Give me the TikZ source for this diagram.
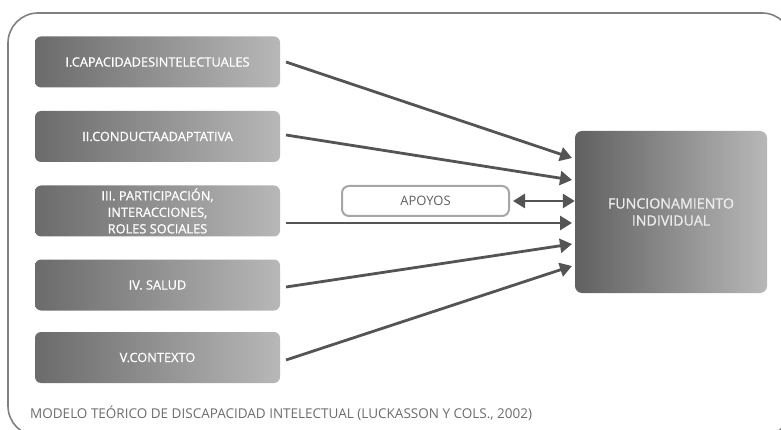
\documentclass[tikz,border=0pt]{standalone}
\usepackage{fontspec}
\setmainfont{Open Sans}
\newfontfamily\medfont[FakeBold=0.9]{Open Sans}
\usetikzlibrary{arrows.meta}
\definecolor{boxdark}{gray}{0.42}
\definecolor{boxlight}{gray}{0.72}
\definecolor{arrowc}{gray}{0.33}
\definecolor{framec}{gray}{0.5}
\tikzset{
  factor/.style={rounded corners=6pt, left color=boxdark, right color=boxlight,
    minimum width=245pt, minimum height=51pt, text=white, align=center,
    font=\medfont\fontsize{12.8}{16.5}\selectfont, inner sep=0pt},
  mainbox/.style={rounded corners=7pt, left color=boxdark!90!black, right color=boxlight,
    minimum width=192pt, minimum height=162pt, text=white!92!black, align=center,
    font=\medfont\fontsize{14.2}{17}\selectfont, inner sep=0pt},
  apoyobox/.style={rounded corners=7pt, draw=gray!70, line width=2pt, fill=white,
    minimum width=167pt, minimum height=30pt, text=gray!75!black,
    font=\fontsize{13}{14}\selectfont, inner sep=0pt},
  conn/.style={draw=arrowc, line width=2.8pt, -{Triangle[length=12pt,width=14pt]}},
  dconn/.style={draw=arrowc, line width=2.8pt, {Triangle[length=12pt,width=14pt]}-{Triangle[length=12pt,width=14pt]}},
}
\begin{document}
\begin{tikzpicture}[x=1pt,y=-1pt]
\useasboundingbox (0,0) rectangle (781,430);
\begin{scope}
\clip (0,0) rectangle (781,430);
\draw[framec, line width=1.6pt, rounded corners=30pt] (8,13) rectangle (792,436);
\end{scope}
\node[factor] (f1) at (157.5,62) {I.CAPACIDADESINTELECTUALES};
\node[factor] (f2) at (157.5,136.5) {II.CONDUCTAADAPTATIVA};
\node[factor] (f3) at (157.5,211) {III. PARTICIPACIÓN,\\INTERACCIONES,\\ROLES SOCIALES};
\node[factor] (f4) at (157.5,285) {IV. SALUD};
\node[factor] (f5) at (157.5,357.5) {V.CONTEXTO};
\node[mainbox] (fi) at (671,212) {FUNCIONAMIENTO\\INDIVIDUAL};
\node[apoyobox] (ap) at (425.5,201) {APOYOS};
\coordinate (e1) at (572,158);
\coordinate (e2) at (572,180);
\coordinate (e3) at (572,223);
\coordinate (e4) at (572,244);
\coordinate (e5) at (572,266);
\coordinate (s1) at (286,62);
\coordinate (s2) at (286,135);
\coordinate (s3) at (286,223);
\coordinate (s4) at (286,287);
\coordinate (s5) at (286,360);
\draw[conn] (s1) -- (e1);
\draw[conn] (s2) -- (e2);
\draw[conn] (s3) -- (e3);
\draw[conn] (s4) -- (e4);
\draw[conn] (s5) -- (e5);
\draw[dconn] (ap.east) ++(3,0) coordinate (d1) -- (fi.west |- ap.east);
\node[anchor=west, text=gray!85!black, font=\fontsize{13.5}{14}\selectfont, inner sep=0pt] (cap) at (30,413) {MODELO TEÓRICO DE DISCAPACIDAD INTELECTUAL (LUCKASSON Y COLS., 2002)};
\end{tikzpicture}
\end{document}
